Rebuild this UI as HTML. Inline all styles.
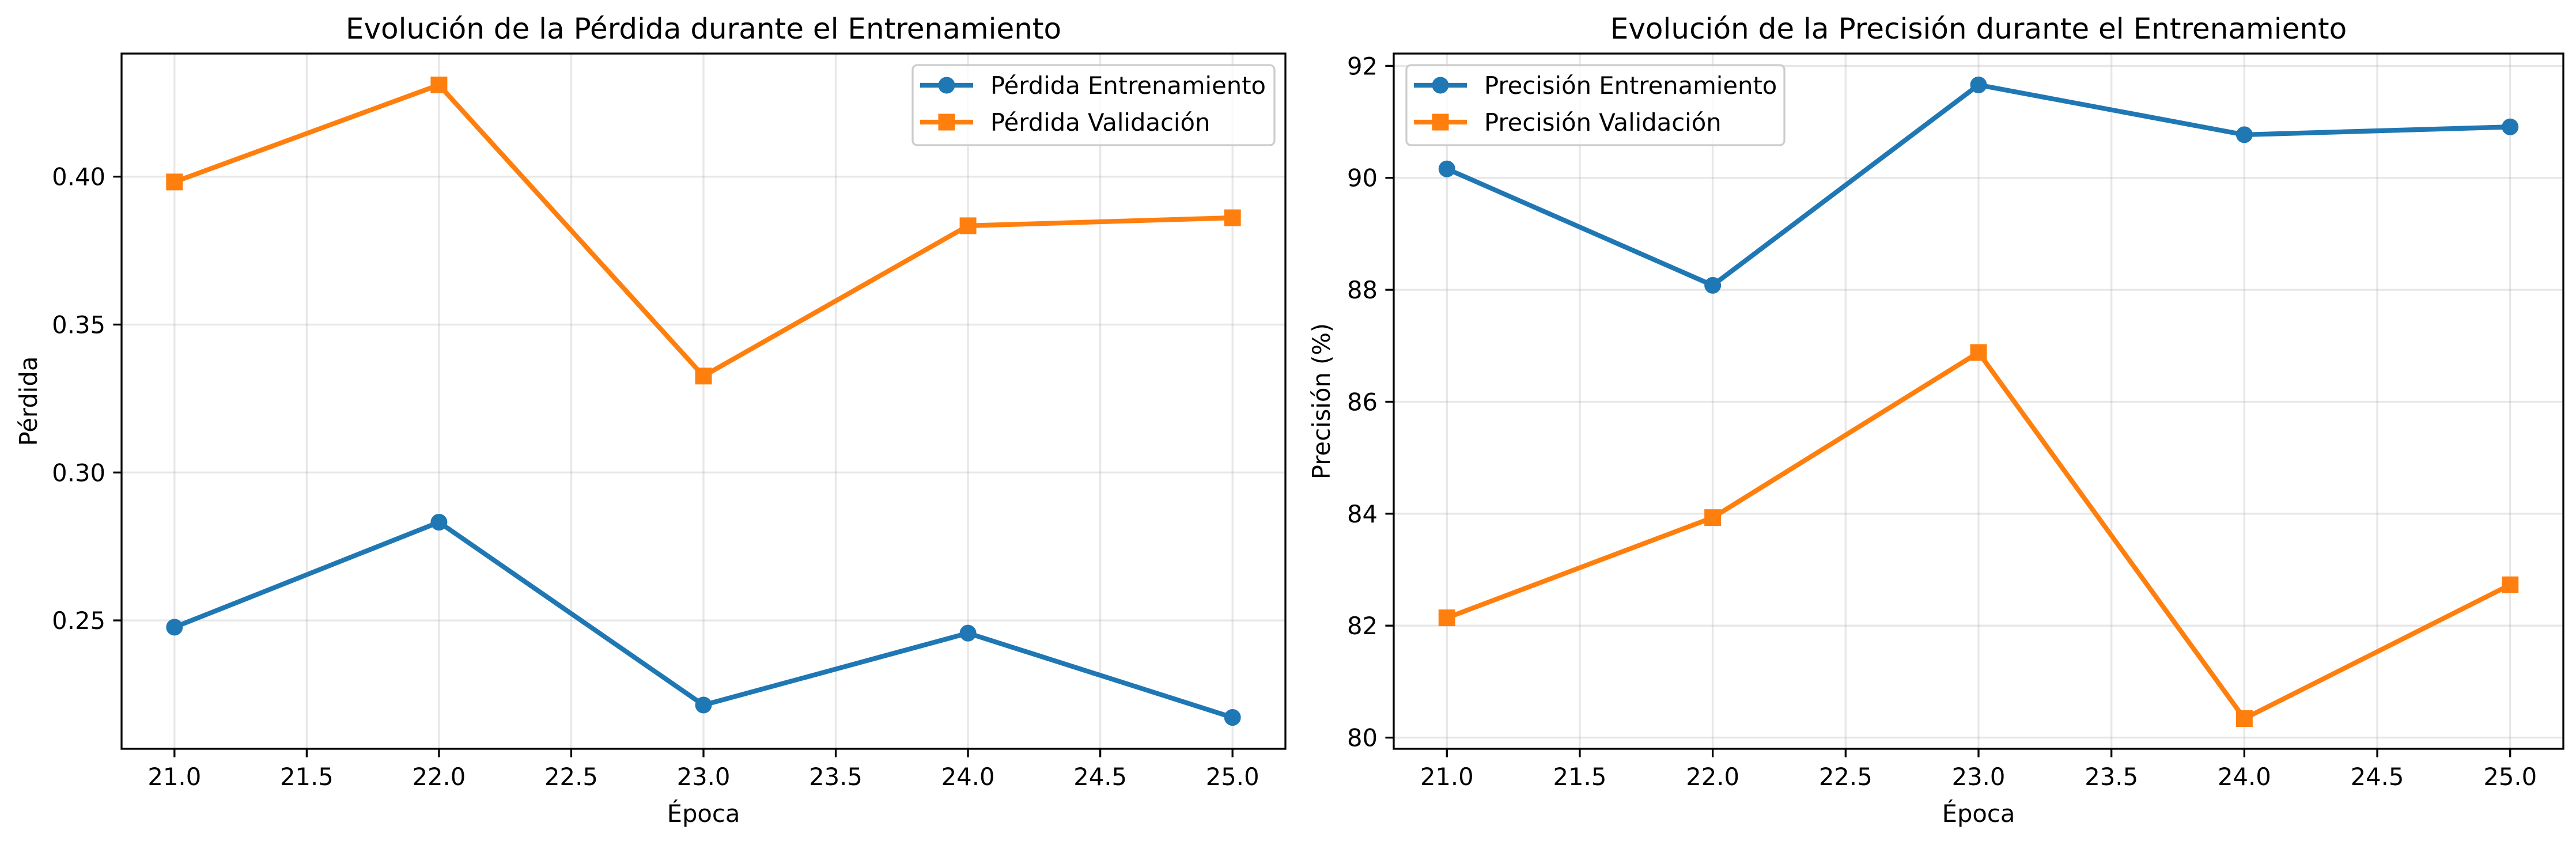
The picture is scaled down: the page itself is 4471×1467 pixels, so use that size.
<!DOCTYPE html>
<html><head><meta charset="utf-8">
<style>
html,body{margin:0;padding:0;background:#fff;}
svg{display:block;font-family:"DejaVu Sans","Liberation Sans",sans-serif;}
</style></head>
<body>
<svg id="fig" width="4471" height="1467" viewBox="0 0 4471 1467" xmlns="http://www.w3.org/2000/svg">
<rect width="4471" height="1467" fill="#fff"/>
</svg>
<script>
const epochs = [21, 22, 23, 24, 25];
const lossTrain = [0.2477, 0.2832, 0.2214, 0.2457, 0.2172];
const lossVal = [0.3982, 0.4310, 0.3326, 0.3834, 0.3861];
const accTrain = [90.16, 88.08, 91.66, 90.77, 90.91];
const accVal = [82.14, 83.93, 86.88, 80.34, 82.73];
const xTicks = [21.0, 21.5, 22.0, 22.5, 23.0, 23.5, 24.0, 24.5, 25.0];
const lossTicks = [0.25, 0.30, 0.35, 0.40];
const accTicks = [80, 82, 84, 86, 88, 90, 92];

const NS = "http://www.w3.org/2000/svg";
const svg = document.getElementById('fig');
function mk(tag, attrs, parent) {
  const e = document.createElementNS(NS, tag);
  for (const k in attrs) e.setAttribute(k, attrs[k]);
  (parent || svg).appendChild(e);
  return e;
}
const BLUE = '#1f77b4', ORANGE = '#ff7f0e';

function panel(cfg) {
  const g = mk('g', {});
  
  
  const L = cfg.left, R = cfg.right, T = 93, B = 1300;
  const xmin = 20.8, xmax = 25.2;
  const sx = v => L + (v - xmin) / (xmax - xmin) * (R - L);
  const sy = v => B - (v - cfg.ymin) / (cfg.ymax - cfg.ymin) * (B - T);
  // grid
  xTicks.forEach(t => {
    const l = mk('line', {x1: sx(t), x2: sx(t), y1: T, y2: B, stroke: '#b0b0b0', 'stroke-opacity': 0.3, 'stroke-width': 3.3}, g);
    
    
  });
  cfg.yTicks.forEach(t => {
    const l = mk('line', {x1: L, x2: R, y1: sy(t), y2: sy(t), stroke: '#b0b0b0', 'stroke-opacity': 0.3, 'stroke-width': 3.3}, g);
    
    
  });
  // series
  cfg.series.forEach(s => {
    const pts = epochs.map((e, i) => sx(e) + ',' + sy(s.values[i])).join(' ');
    const pl = mk('polyline', {points: pts, fill: 'none', stroke: s.color, 'stroke-width': 8.3, 'stroke-linejoin': 'round', 'stroke-linecap': 'square'}, g);
    
    
    epochs.forEach((e, i) => {
      let m;
      if (s.marker === 'o') m = mk('circle', {cx: sx(e), cy: sy(s.values[i]), r: 14.5, fill: s.color}, g);
      else m = mk('rect', {x: sx(e) - 14.5, y: sy(s.values[i]) - 14.5, width: 29, height: 29, fill: s.color}, g);
      
      
    });
  });
  // frame
  const fr = mk('rect', {x: L, y: T, width: R - L, height: B - T, fill: 'none', stroke: '#000', 'stroke-width': 3.3}, g);
  
  
  // x ticks
  xTicks.forEach(t => {
    mk('line', {x1: sx(t), x2: sx(t), y1: B, y2: B + 14.6, stroke: '#000', 'stroke-width': 3.3}, g);
    const tx = mk('text', {x: sx(t), y: 1363, 'font-size': 41.7, 'text-anchor': 'middle', fill: '#000'}, g);
    tx.textContent = t.toFixed(1);
    
    
  });
  cfg.yTicks.forEach(t => {
    mk('line', {x1: L - 14.6, x2: L, y1: sy(t), y2: sy(t), stroke: '#000', 'stroke-width': 3.3}, g);
    const tx = mk('text', {x: L - 28, y: sy(t) + 15, 'font-size': 41.7, 'text-anchor': 'end', fill: '#000'}, g);
    tx.textContent = cfg.fmt(t);
    
    
  });
  // labels
  const ti = mk('text', {x: (L + R) / 2, y: 67, 'font-size': 50, 'text-anchor': 'middle', fill: '#000'}, g);
  ti.textContent = cfg.title;
  
  
  const xl = mk('text', {x: (L + R) / 2, y: 1427, 'font-size': 41.7, 'text-anchor': 'middle', fill: '#000'}, g);
  xl.textContent = 'Época';
  
  
  const yl = mk('text', {x: 0, y: 0, 'font-size': 41.7, 'text-anchor': 'middle', fill: '#000', transform: 'translate(' + cfg.ylx + ',' + ((T + B) / 2) + ') rotate(-90)'}, g);
  yl.textContent = cfg.ylabel;
  
  
  // legend
  const lg = mk('g', {}, g);
  
  
  mk('rect', {x: cfg.lgx, y: 113, width: cfg.lgw, height: 139, rx: 8, fill: '#fff', 'fill-opacity': 0.8, stroke: '#cccccc', 'stroke-width': 3.3}, lg);
  cfg.series.forEach((s, i) => {
    const cy = 148 + i * 64;
    const e = mk('g', {}, lg);
    
    
    const hx = cfg.lgx + 13;
    mk('line', {x1: hx, x2: hx + 92, y1: cy, y2: cy, stroke: s.color, 'stroke-width': 8.3}, e);
    if (s.marker === 'o') mk('circle', {cx: hx + 46, cy: cy, r: 14.5, fill: s.color}, e);
    else mk('rect', {x: hx + 31.5, y: cy - 14.5, width: 29, height: 29, fill: s.color}, e);
    const t = mk('text', {x: cfg.lgx + 135, y: cy + 15, 'font-size': 41.7, fill: '#000'}, e);
    t.textContent = s.label;
  });
}

panel({
  name: 'loss-chart', left: 211, right: 2231, ymin: 0.2066, ymax: 0.4416,
  yTicks: lossTicks, fmt: v => v.toFixed(2),
  title: 'Evolución de la Pérdida durante el Entrenamiento', ylabel: 'Pérdida', ylx: 64,
  lgx: 1584, lgw: 628,
  series: [
    {name: 'loss-train', values: lossTrain, color: BLUE, marker: 'o', label: 'Pérdida Entrenamiento'},
    {name: 'loss-val', values: lossVal, color: ORANGE, marker: 's', label: 'Pérdida Validación'}
  ]
});
panel({
  name: 'accuracy-chart', left: 2419, right: 4449, ymin: 79.80, ymax: 92.22,
  yTicks: accTicks, fmt: v => String(v),
  title: 'Evolución de la Precisión durante el Entrenamiento', ylabel: 'Precisión (%)', ylx: 2308,
  lgx: 2441, lgw: 656,
  series: [
    {name: 'acc-train', values: accTrain, color: BLUE, marker: 'o', label: 'Precisión Entrenamiento'},
    {name: 'acc-val', values: accVal, color: ORANGE, marker: 's', label: 'Precisión Validación'}
  ]
});
</script>
</body></html>
